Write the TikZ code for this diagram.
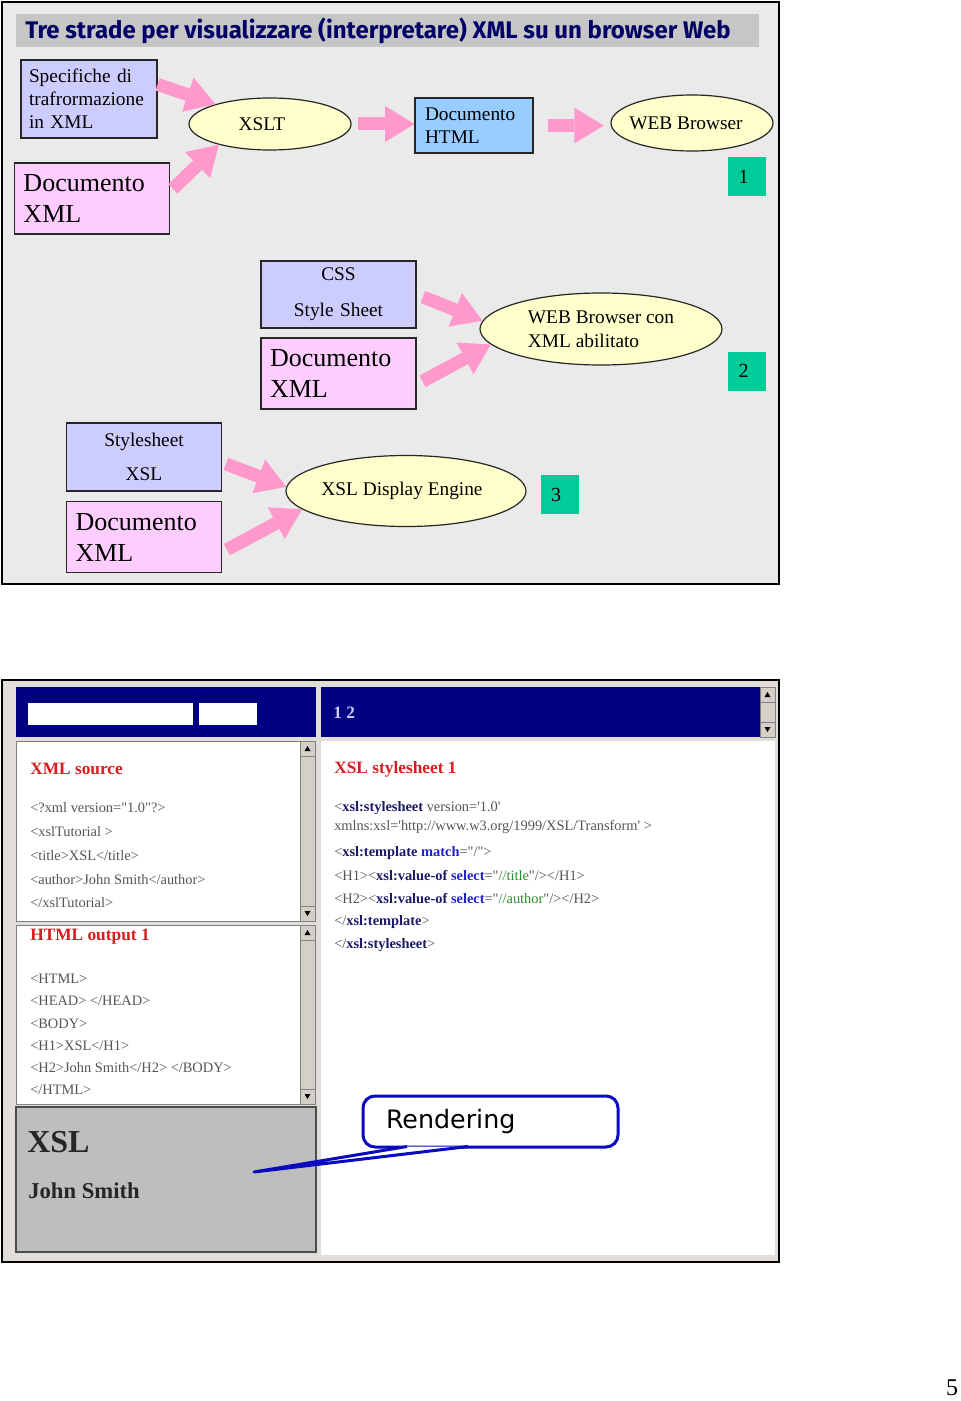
\documentclass[tikz,border=0pt]{standalone}
\usepackage{fontspec}
\setmainfont{Liberation Serif}
\newfontfamily\titlefont{Fira Sans}
\newfontfamily\callfont{DejaVu Sans}
\usetikzlibrary{arrows.meta,shapes.geometric,positioning}

\definecolor{bgpage}{HTML}{EAEAEA}
\definecolor{titlebar}{HTML}{C6C6C6}
\definecolor{titleblue}{HTML}{000066}
\definecolor{lilac}{HTML}{CCCCFF}
\definecolor{rosa}{HTML}{FFCCFF}
\definecolor{crema}{HTML}{FFFFCC}
\definecolor{celeste}{HTML}{99CCFF}
\definecolor{verde}{HTML}{00CC99}
\definecolor{freccia}{HTML}{FF99CC}
\definecolor{navy}{HTML}{000080}
\definecolor{winsilver}{HTML}{D4D0C8}
\definecolor{panelgray}{HTML}{BEBEBE}
\definecolor{codegray}{HTML}{555555}
\definecolor{codered}{HTML}{D41F1F}
\definecolor{codenavy}{HTML}{1A1A66}
\definecolor{codeblue}{HTML}{2222CC}
\definecolor{codegreen}{HTML}{2E8B2E}
\definecolor{callblue}{HTML}{0A0ABE}

\newcommand{\xtag}[1]{\textcolor{codenavy}{\bfseries #1}}
\newcommand{\xatt}[1]{\textcolor{codeblue}{\bfseries #1}}
\newcommand{\xval}[1]{\textcolor{codegreen}{#1}}
\newcommand{\qq}{\textquotedbl}
\newcommand{\q}{\textquotesingle}

\tikzset{
  spec/.style={
    draw=black!85, line width=0.9pt, fill=lilac,
    inner sep=0pt, inner xsep=6pt, text width=90pt,
    minimum height=58.5pt, align=left,
    font=\fontsize{14.5}{17.25}\selectfont
  },
  doc/.style={
    draw=black!85, line width=0.9pt, fill=rosa,
    inner sep=0pt, inner xsep=6.75pt, text width=102.75pt,
    minimum height=53.25pt, align=left,
    font=\fontsize{19.5}{23.25}\selectfont
  },
  sheet/.style={
    draw=black!85, line width=0.9pt, fill=lilac,
    inner sep=0pt, text width=116.25pt,
    minimum height=50.25pt, align=center,
    font=\fontsize{14.5}{17.25}\selectfont
  },
  htmlbox/.style={
    draw=black!85, line width=0.9pt, fill=celeste,
    inner sep=0pt, inner xsep=7.5pt, text width=73.5pt,
    minimum height=41.25pt, align=left,
    font=\fontsize{14.5}{17.25}\selectfont
  },
  elli/.style={
    ellipse, draw=black!85, line width=0.9pt, fill=crema,
    inner xsep=-12pt, inner ysep=0pt,
    font=\fontsize{14.5}{17.25}\selectfont
  },
  num/.style={
    fill=verde, inner sep=0pt,
    minimum width=28.5pt, minimum height=29.25pt,
    font=\fontsize{15}{17}\selectfont
  },
  fat/.style={
    draw=freccia, line width=9.75pt,
    -{Triangle[length=22pt,width=27pt,line width=0pt]}
  },
  code/.style={
    anchor=west, inner sep=0pt, text=codegray,
    font=\fontsize{10.8}{12}\selectfont
  },
  shothead/.style={
    anchor=west, inner sep=0pt, text=codered,
    font=\bfseries\fontsize{13}{15}\selectfont
  },
  sbar/.style={draw=gray, fill=winsilver, line width=0.4pt},
  callout/.style={
    draw=callblue, line width=2.25pt, fill=white, rounded corners=9pt,
    inner sep=0pt, inner xsep=17.25pt, text width=156.75pt,
    minimum height=38.25pt, align=left,
    font=\callfont\fontsize{19}{22}\selectfont
  }
}

\begin{document}
\begin{tikzpicture}[x=0.75pt,y=-0.75pt]
\fill[white] (0,0) rectangle (960,1401);
\useasboundingbox (0,0) rectangle (960,1401);

% slide con le tre strade
\draw[line width=1.5pt, fill=bgpage] (2,2) rectangle (779,584);
\fill[titlebar] (16,14) rectangle (759,47);
\node[anchor=west, inner sep=0pt, text=titleblue,
  font=\titlefont\bfseries\fontsize{18}{20}\selectfont] (title) at (25,31)
  {Tre strade per visualizzare (interpretare) XML su un browser Web};

% strada 1
\node[spec] (spec) at (89,99) {Specifiche di\\trafrormazione\\in XML};
\node[doc] (doc1) at (92,198.5) {Documento\\XML};
\node[elli, minimum width=121.5pt, minimum height=39pt] (xslt) at (270,124) {XSLT\hspace*{12pt}};
\node[htmlbox] (html) at (474,125.5) {Documento\\HTML};
\node[elli, minimum width=121.5pt, minimum height=42pt] (web1) at (692,123) {WEB Browser\hspace*{9pt}};
\node[num] (n1) at (747,176.5) {1\hspace*{5pt}};

\draw[fat] (spec.12) -- (xslt.160);
\draw[fat, shorten <=3pt] (doc1.5) -- (xslt.202);
\draw[fat, shorten <=5pt] (xslt.east) -- (xslt.east -| html.west);
\draw[fat, shorten <=10.5pt, shorten >=5pt] (html.east) -- (html.east -| web1.west);

% strada 2
\node[sheet] (css) at (338.5,294.5) {CSS\\[9.75pt]Style Sheet};
\node[doc] (doc2) at (338.5,373.5) {Documento\\XML};
\node[elli, minimum width=181.5pt, minimum height=54pt, align=left] (web2) at (601,329)
  {WEB Browser con\\[0.75pt]XML abilitato};
\node[num] (n2) at (747,371) {2\hspace*{5pt}};

\draw[fat, shorten <=5pt] (css.east) -- (web2.176);
\draw[fat, shorten <=5pt] (doc2.-8) -- (web2.188);

% strada 3
\node[sheet, minimum height=51pt] (xslsheet) at (144,457) {Stylesheet\\[8.25pt]XSL};
\node[doc] (doc3) at (144,537) {Documento\\XML};
\node[elli, minimum width=180pt, minimum height=53.25pt] (engine) at (406,491) {XSL Display Engine\hspace*{6pt}};
\node[num] (n3) at (559.5,494.5) {3\hspace*{5pt}};

\draw[fat, shorten <=3pt] (xslsheet.-4) -- (engine.178);
\draw[fat, shorten <=4pt] (doc3.-11) -- (engine.190);

% schermata del browser
\draw[line width=1.5pt, fill=winsilver!70] (2,680) rectangle (779,1262);
\fill[navy] (16,687) rectangle (316,737);
\fill[white] (28,703) rectangle (193,725);
\fill[white] (199,703) rectangle (257,725);
\fill[navy] (321,687) rectangle (760,737);
\node[anchor=west, inner sep=0pt, text=lilac, font=\bfseries\fontsize{13}{15}\selectfont]
  (pages) at (333,713) {1 2};

\draw[gray, fill=white] (16,741) rectangle (300,921);
\draw[gray, fill=white] (16,925) rectangle (300,1104);
\draw[gray!60!black, line width=1pt, fill=panelgray] (16,1107) rectangle (316,1252);
\fill[white] (321,741) rectangle (775,1255);

\foreach \sx/\st/\sb in {300/741/921,300/925/1104,760/687/737}{
  \draw[sbar] (\sx,\st) rectangle (\sx+15,\sb);
  \draw[sbar] (\sx,\st) rectangle (\sx+15,\st+15);
  \draw[sbar] (\sx,\sb-15) rectangle (\sx+15,\sb);
  \fill (\sx+4.5,\st+10) -- (\sx+10.5,\st+10) -- (\sx+7.5,\st+5) -- cycle;
  \fill (\sx+4.5,\sb-10) -- (\sx+10.5,\sb-10) -- (\sx+7.5,\sb-5) -- cycle;
}

% sorgente XML
\node[shothead] (srchead) at (30,769) {XML source};
\foreach \tx [count=\i from 0] in {{<?xml version=\qq1.0\qq?>},{<xslTutorial >},
    {<title>XSL</title>},{<author>John Smith</author>},{</xslTutorial>}}
  \node[code] (src\i) at (30,808+23.75*\i) {\tx};

% output HTML
\node[shothead] (outhead) at (30,937) {HTML output 1};
\foreach \tx [count=\i from 0] in {{<HTML>},{<HEAD> </HEAD>},{<BODY>},
    {<H1>XSL</H1>},{<H2>John Smith</H2> </BODY>},{</HTML>}}
  \node[code] (out\i) at (30,979+22.2*\i) {\tx};

% resa
\node[anchor=west, inner sep=0pt, text=black!85, font=\bfseries\fontsize{24}{26}\selectfont]
  (xslbig) at (27,1142) {XSL};
\node[anchor=west, inner sep=0pt, text=black!85, font=\bfseries\fontsize{17}{19}\selectfont]
  (smith) at (28,1191) {John Smith};

% foglio XSL
\node[shothead] (xslhead) at (334,769) {XSL stylesheet 1};
\node[code] (sty0) at (334,808) {<\xtag{xsl:stylesheet} version=\q1.0\q};
\node[code] (sty1) at (334,827) {xmlns:xsl=\q http://www.w3.org/1999/XSL/Transform\q\ >};
\foreach \tx [count=\i from 2] in {{<\xtag{xsl:template} \xatt{match}=\qq/\qq>},
    {<H1><\xtag{xsl:value-of} \xatt{select}=\qq\xval{//title}\qq/></H1>},
    {<H2><\xtag{xsl:value-of} \xatt{select}=\qq\xval{//author}\qq/></H2>},
    {</\xtag{xsl:template}>},{</\xtag{xsl:stylesheet}>}}
  \node[code] (sty\i) at (334,853+23*\i-46) {\tx};

% fumetto
\node[callout] (rendering) at (490.5,1121.5) {Rendering};
\coordinate (tip) at (254,1172);
\filldraw[draw=callblue, line width=2.25pt, fill=white, line join=round]
  ([xshift=-62.6pt,yshift=1.5pt]rendering.south) -- (tip)
  -- ([xshift=-16.9pt,yshift=1.5pt]rendering.south);

\node[font=\fontsize{18}{20}\selectfont, inner sep=0pt] (pagenum) at (952,1388) {5};
\end{tikzpicture}
\end{document}
